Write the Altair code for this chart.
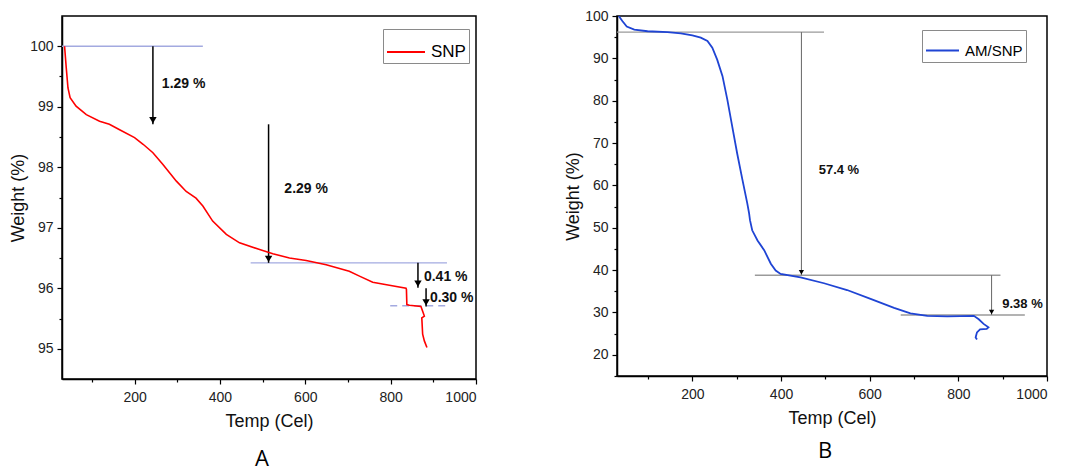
import altair as alt
import pandas as pd

# ---------------- Panel A: SNP ----------------
snp_temp = [36, 40, 44, 49, 63, 87, 118, 141, 165, 200, 220, 243, 266, 298, 321, 344, 360,
            383, 415, 446, 493, 524, 563, 602, 649, 703, 727, 758, 797, 836, 837, 838, 844,
            871, 875, 879, 873, 875, 879, 885]
snp_weight = [100.0, 99.64, 99.31, 99.15, 99.01, 98.87, 98.76, 98.71, 98.62, 98.49, 98.38,
              98.24, 98.05, 97.77, 97.60, 97.49, 97.36, 97.11, 96.89, 96.75, 96.64, 96.57,
              96.50, 96.46, 96.39, 96.28, 96.20, 96.10, 96.05, 96.00, 95.98, 95.73, 95.72,
              95.70, 95.62, 95.54, 95.51, 95.24, 95.13, 95.02]

# horizontal reference lines (y, x start, x end, dashed)
a_h_y = [100.0, 96.42, 95.71]
a_h_x1 = [30, 472, 799]
a_h_x2 = [360, 932, 934]
a_h_dash = ["solid", "solid", "dash"]

# arrows (x, y start, y end)
a_arr_x = [243, 514, 864, 883]
a_arr_y1 = [100.0, 98.71, 96.42, 96.00]
a_arr_y2 = [98.71, 96.42, 96.01, 95.70]

# labels
a_lab_x = [264, 551, 878, 892]
a_lab_y = [99.37, 97.64, 96.19, 95.84]
a_lab_t = ["1.29 %", "2.29 %", "0.41 %", "0.30 %"]

# ---------------- Panel B: AM/SNP ----------------
am_temp = [34, 42, 52, 69, 99, 144, 174, 200, 219, 234, 245, 256, 268, 279, 290, 301, 313,
           324, 328, 330, 335, 347, 362, 377, 388, 399, 444, 497, 549, 602, 655, 692, 730,
           775, 835, 846, 857, 868, 864, 849, 842, 839, 842]
am_weight = [100.0, 98.8, 97.5, 96.8, 96.4, 96.2, 95.9, 95.4, 94.9, 94.1, 92.5, 89.7, 85.8,
             80.2, 73.9, 67.6, 61.3, 55.7, 53.4, 51.8, 49.4, 47.0, 44.7, 41.5, 39.9, 39.1,
             38.3, 36.9, 35.3, 33.2, 31.1, 29.8, 29.2, 29.1, 29.2, 28.4, 27.3, 26.5, 26.1,
             26.0, 25.3, 24.1, 23.6]

b_h_y = [96.2, 38.8, 29.42]
b_h_x1 = [30, 341, 670]
b_h_x2 = [497, 895, 950]

b_arr_x = [446, 875]
b_arr_y1 = [96.2, 38.8]
b_arr_y2 = [38.8, 29.42]

b_lab_x = [485, 899]
b_lab_y = [63.6, 32.0]
b_lab_t = ["57.4 %", "9.38 %"]

x_ticks = list(range(100, 1001, 100))
a_y_ticks = [95 + 0.5 * i for i in range(11)]
b_y_ticks = list(range(15, 101, 5))

FONT = "Liberation Sans"


def panel(temp, weight, series, color, xdom, ydom, yticks, ymajor_test,
          hy, hx1, hx2, hdash, hcolor, ax, ay1, ay2, acolor, awidth, headsize, headoff,
          lx, ly, lt, lfs, width, height, letter, letter_offset, legx, legy,
          leg_fs, leg_sym, line_w):
    xs = alt.Scale(domain=xdom, nice=False, zero=False)
    ys = alt.Scale(domain=ydom, nice=False, zero=False)
    df = pd.DataFrame({"temp": temp, "weight": weight, "idx": list(range(len(temp))),
                       "series": [series] * len(temp)})
    xaxis = alt.Axis(title="Temp (Cel)", values=x_ticks,
                     labelExpr="datum.value % 200 == 0 ? format(datum.value, 'd') : ''",
                     tickSize={"condition": {"test": "datum.value % 200 == 0", "value": 5}, "value": 3},
                     grid=False)
    yaxis = alt.Axis(title="Weight (%)", values=yticks,
                     labelExpr=ymajor_test + " ? format(datum.value, 'd') : ''",
                     tickSize={"condition": {"test": ymajor_test, "value": 5}, "value": 3},
                     grid=False)
    line = alt.Chart(df).mark_line(strokeWidth=line_w, clip=True).encode(
        x=alt.X("temp:Q", scale=xs, axis=xaxis),
        y=alt.Y("weight:Q", scale=ys, axis=yaxis),
        order="idx:Q",
        color=alt.Color("series:N", scale=alt.Scale(domain=[series], range=[color]),
                        legend=alt.Legend(title=None, orient="none", legendX=legx, legendY=legy,
                                          strokeColor="#8a8a8a", padding=3, symbolType="stroke",
                                          symbolSize=leg_sym, symbolStrokeWidth=1.8,
                                          labelFontSize=leg_fs, labelFont=FONT,
                                          labelColor="black", labelOffset=5,
                                          fillColor="white")),
    )
    hdf = pd.DataFrame({"y": hy, "x1": hx1, "x2": hx2, "dash": hdash})
    hl = alt.Chart(hdf).mark_rule(color=hcolor, strokeWidth=1.4).encode(
        x=alt.X("x1:Q", scale=xs, axis=xaxis),
        x2="x2:Q",
        y=alt.Y("y:Q", scale=ys, axis=yaxis),
        strokeDash=alt.StrokeDash("dash:N", scale=alt.Scale(domain=["solid", "dash"],
                                                            range=[[1, 0], [7, 5]]), legend=None),
    )
    adf = pd.DataFrame({"x": ax, "y1": ay1, "y2": ay2})
    ar = alt.Chart(adf).mark_rule(color=acolor, strokeWidth=awidth).encode(
        x=alt.X("x:Q", scale=xs, axis=xaxis),
        y=alt.Y("y1:Q", scale=ys, axis=yaxis),
        y2="y2:Q",
    )
    heads = alt.Chart(adf).mark_point(shape="triangle-down", filled=True, color="black",
                                      size=headsize, opacity=1, yOffset=headoff).encode(
        x=alt.X("x:Q", scale=xs, axis=xaxis),
        y=alt.Y("y2:Q", scale=ys, axis=yaxis),
    )
    ldf = pd.DataFrame({"x": lx, "y": ly, "t": lt})
    labels = alt.Chart(ldf).mark_text(align="left", baseline="middle", fontWeight="bold",
                                      fontSize=lfs, font=FONT, color="#111").encode(
        x=alt.X("x:Q", scale=xs, axis=xaxis),
        y=alt.Y("y:Q", scale=ys, axis=yaxis),
        text="t:N",
    )
    return alt.layer(hl, ar, heads, line, labels).properties(
        width=width, height=height,
        title=alt.TitleParams(letter, orient="bottom", fontSize=22, font="Open Sans",
                              fontWeight="normal", anchor="middle", frame="group",
                              dx=-7, offset=letter_offset, color="black"),
    )


chart_a = panel(snp_temp, snp_weight, "SNP", "#ff0000", [30, 1000], [94.5, 100.5],
                a_y_ticks, "datum.value % 1 == 0",
                a_h_y, a_h_x1, a_h_x2, a_h_dash, "#a3aae0",
                a_arr_x, a_arr_y1, a_arr_y2, "black", 1.5, 55, -4,
                a_lab_x, a_lab_y, a_lab_t, 14, 414, 363, "A", 19, 321, 13, 17, 1444, 1.6)

chart_b = panel(am_temp, am_weight, "AM/SNP", "#1f44d4", [30, 1000], [15, 100],
                b_y_ticks, "datum.value % 10 == 0",
                b_h_y, b_h_x1, b_h_x2, ["solid"] * 3, "#9a9a9a",
                b_arr_x, b_arr_y1, b_arr_y2, "#666666", 1.0, 28, -3,
                b_lab_x, b_lab_y, b_lab_t, 13, 430, 360, "B", 14, 305, 14, 15, 1089, 1.8)

chart = alt.hconcat(chart_a, chart_b, spacing=141, bounds="flush").resolve_scale(
    color="independent", strokeDash="independent"
).resolve_legend(color="independent").properties(
    padding={"left": 0, "top": 0, "right": 5, "bottom": 0},
).configure_view(
    stroke="black", strokeWidth=1.5,
).configure_axis(
    domainColor="black", domainWidth=1.5, tickColor="black", tickWidth=1.2,
    labelFont=FONT, labelFontSize=14, labelColor="#222", labelPadding=4,
    titleFont=FONT, titleFontSize=18, titleFontWeight="normal", titleColor="#111",
    titlePadding=2,
).configure_axisX(labelPadding=6, titlePadding=8)

chart.save("out.html", embed_options={"renderer": "svg", "actions": False})
